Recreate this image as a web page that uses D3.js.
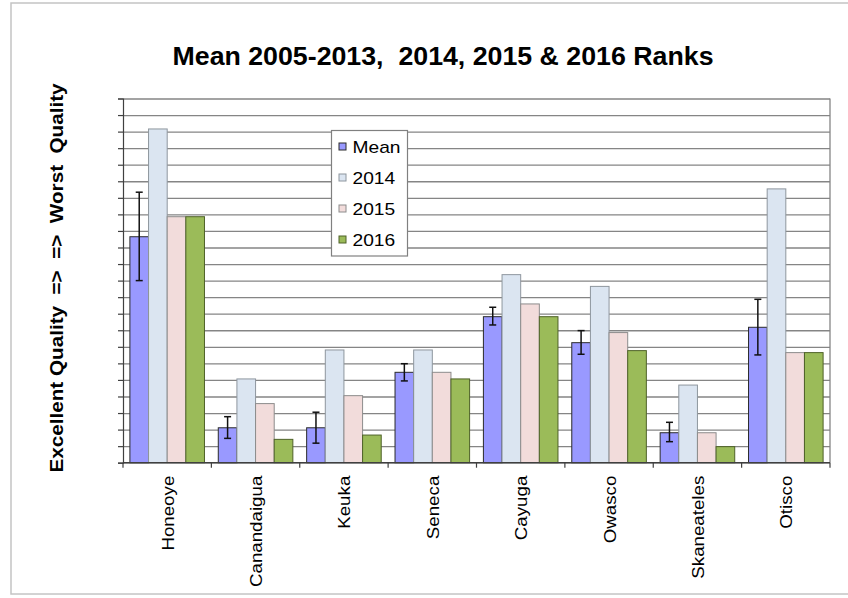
<!DOCTYPE html>
<html>
<head>
<meta charset="utf-8">
<script src="https://cdn.jsdelivr.net/npm/d3@7"></script>
<style>
  body { margin: 0; background: #fff; }
  text { font-family: "Liberation Sans", Arial, sans-serif; white-space: pre; }
</style>
</head>
<body>
<div id="main"></div>
<script>
// lakes and ranks
var lakes = ["Honeoye", "Canandaigua", "Keuka", "Seneca", "Cayuga", "Owasco", "Skaneateles", "Otisco"];
var seriesNames = ["Mean", "2014", "2015", "2016"];
var meanRank = [13.65, 2.11, 2.11, 5.46, 8.82, 7.25, 1.81, 8.18];
var meanLow  = [11.0, 1.47, 1.18, 4.94, 8.32, 6.55, 1.27, 6.51];
var meanHigh = [16.34, 2.78, 3.05, 5.98, 9.39, 7.98, 2.44, 9.87];
var rank2014 = [20.16, 5.06, 6.81, 6.81, 11.36, 10.65, 4.69, 16.54];
var rank2015 = [14.86, 3.57, 4.05, 5.46, 9.59, 7.86, 1.81, 6.65];
var rank2016 = [14.86, 1.41, 1.67, 5.06, 8.82, 6.77, 0.97, 6.65];
var yMax = 22;

var ctx = {
    w: 848,
    h: 598,
    left: 123,
    right: 830,
    top: 98.5,
    bottom: 462.7,
    fill: {"Mean": "#9999ff", "2014": "#dbe5f1", "2015": "#f2dcdb", "2016": "#9bbb59"},
    stroke: {"Mean": "#2b2b2b", "2014": "#8e969e", "2015": "#8c8c8c", "2016": "#4f6228"},
};

var buildRows = function(){
  var cols = [meanRank, rank2014, rank2015, rank2016];
  return lakes.map(function(lake, i){
    return {
      lake: lake,
      low: meanLow[i],
      high: meanHigh[i],
      values: seriesNames.map(function(s, j){ return {key: s, value: cols[j][i]}; })
    };
  });
};

var createViz = function(){
  var svg = d3.select("#main").append("svg")
      .attr("width", ctx.w)
      .attr("height", ctx.h);

  // light frame round the chart
  svg.append("rect")
      .attr("x", 11).attr("y", 3)
      .attr("width", 850).attr("height", 591)
      .attr("fill", "none")
      .attr("stroke", "#c4c4c4")
      .attr("stroke-width", 1.5);

  var x0 = d3.scaleBand().domain(lakes).range([ctx.left, ctx.right]).padding(0);
  var x1 = d3.scaleBand().domain(seriesNames).range([0, x0.bandwidth()])
      .paddingInner(0).paddingOuter(0.37);
  var y = d3.scaleLinear().domain([0, yMax]).range([ctx.bottom, ctx.top]);
  var plotW = ctx.right - ctx.left;

  // grid lines
  var grid = svg.append("g")
      .attr("transform", "translate(" + ctx.left + ",0)")
      .call(d3.axisLeft(y).ticks(yMax).tickSize(-plotW).tickFormat(""));
  grid.select(".domain").remove();
  grid.selectAll("line").attr("stroke", "#858585").attr("stroke-width", 1.3);

  // right edge of plot
  svg.append("line")
      .attr("x1", ctx.right).attr("x2", ctx.right)
      .attr("y1", ctx.top).attr("y2", ctx.bottom)
      .attr("stroke", "#858585").attr("stroke-width", 1.3);

  var rows = buildRows();

  var groups = svg.selectAll("g.lake").data(rows).enter().append("g")
      .attr("class", "lake")
      .attr("transform", function(d){ return "translate(" + x0(d.lake) + ",0)"; });

  groups.selectAll("rect").data(function(d){ return d.values; }).enter().append("rect")
      .attr("x", function(d){ return x1(d.key); })
      .attr("y", function(d){ return y(d.value); })
      .attr("width", x1.bandwidth())
      .attr("height", function(d){ return y(0) - y(d.value); })
      .attr("fill", function(d){ return ctx.fill[d.key]; })
      .attr("stroke", function(d){ return ctx.stroke[d.key]; })
      .attr("stroke-width", 1);

  // error bars on the mean
  var cx = x1("Mean") + x1.bandwidth() / 2;
  groups.append("line")
      .attr("x1", cx).attr("x2", cx)
      .attr("y1", function(d){ return y(d.low); })
      .attr("y2", function(d){ return y(d.high); })
      .attr("stroke", "#111").attr("stroke-width", 1.5);
  ["low", "high"].forEach(function(k){
    groups.append("line")
        .attr("x1", cx - 3.5).attr("x2", cx + 3.5)
        .attr("y1", function(d){ return y(d[k]); })
        .attr("y2", function(d){ return y(d[k]); })
        .attr("stroke", "#111").attr("stroke-width", 1.5);
  });

  // left axis with small ticks
  var yAxis = svg.append("g")
      .attr("transform", "translate(" + ctx.left + ",0)")
      .call(d3.axisLeft(y).ticks(yMax).tickSize(5).tickFormat(""));
  yAxis.selectAll("line, path").attr("stroke", "#404040").attr("stroke-width", 1.2);

  // bottom axis: line, ticks between lakes, labels
  svg.append("line")
      .attr("x1", ctx.left).attr("x2", ctx.right)
      .attr("y1", ctx.bottom).attr("y2", ctx.bottom)
      .attr("stroke", "#404040").attr("stroke-width", 1.2);
  var bounds = lakes.map(function(l){ return x0(l); }).concat([ctx.right]);
  svg.selectAll("line.xtick").data(bounds).enter().append("line")
      .attr("class", "xtick")
      .attr("x1", function(d){ return d; }).attr("x2", function(d){ return d; })
      .attr("y1", ctx.bottom).attr("y2", ctx.bottom + 5)
      .attr("stroke", "#404040").attr("stroke-width", 1.2);

  svg.selectAll("text.xlab").data(lakes).enter().append("text")
      .attr("class", "xlab")
      .attr("transform", function(d){
        return "translate(" + (x0(d) + x0.bandwidth() / 2 + 6.5) + "," + (ctx.bottom + 13) + ") rotate(-90) scale(1.17,1)";
      })
      .attr("text-anchor", "end")
      .attr("font-size", 16)
      .attr("fill", "#000")
      .text(function(d){ return d; });

  // title
  svg.append("text")
      .attr("transform", "translate(443,65) scale(1.07,1)")
      .attr("text-anchor", "middle")
      .attr("font-size", 25)
      .attr("font-weight", "bold")
      .text("Mean 2005-2013,  2014, 2015 & 2016 Ranks");

  // y title
  svg.append("text")
      .attr("transform", "translate(63,278) rotate(-90) scale(1.15,1)")
      .attr("text-anchor", "middle")
      .attr("font-size", 18)
      .attr("font-weight", "bold")
      .text("Excellent Quality  =>  =>  Worst  Quality");

  // legend
  var lg = svg.append("g").attr("transform", "translate(331.5,130.5)");
  lg.append("rect")
      .attr("width", 76).attr("height", 125.5)
      .attr("fill", "#fff").attr("stroke", "#808080").attr("stroke-width", 1.2);
  var items = lg.selectAll("g.item").data(seriesNames).enter().append("g")
      .attr("class", "item")
      .attr("transform", function(d, i){ return "translate(0," + (16 + i * 31) + ")"; });
  items.append("rect")
      .attr("x", 7.5).attr("y", -3.5)
      .attr("width", 7).attr("height", 7)
      .attr("fill", function(d){ return ctx.fill[d]; })
      .attr("stroke", function(d){ return ctx.stroke[d]; });
  items.append("text")
      .attr("transform", "translate(21,6) scale(1.2,1)")
      .attr("font-size", 16)
      .text(function(d){ return d; });
};

createViz();
</script>
</body>
</html>
